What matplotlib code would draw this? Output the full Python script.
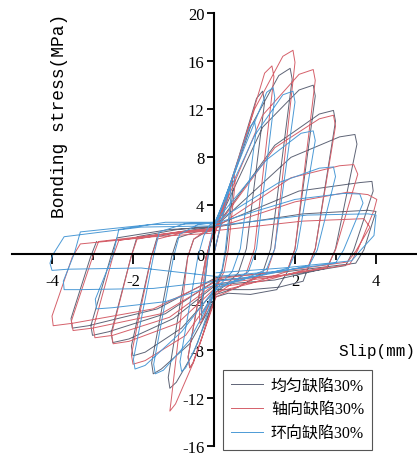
import numpy as np
import matplotlib
matplotlib.use('Agg')
from matplotlib import pyplot as plt

# hysteresis paths, (slip mm, stress MPa), one cycle per line
gray_pts = [
    (0, 0), (0.25, 3.6), (0.4, 5.7), (0.45, 6.0), (0.47, 5.3), (0.3, 0.3), (0.2, -1.5), (0.08, -2.4),
    (-0.12, -4.2), (-0.26, -5.3), (-0.3, -5.5), (-0.31, -4.8), (-0.15, -0.3), (-0.08, 1.0), (-0.03, 1.6),
    (0.02, 1.8), (0.6, 7.9), (1.05, 12.9), (1.2, 13.5), (1.25, 12.6), (0.8, 0.4), (0.6, -1.6), (0.3, -2.6), (0.05, -3.2),
    (-0.3, -7.0), (-0.52, -9.1), (-0.6, -9.5), (-0.64, -8.6), (-0.2, -0.3), (-0.05, 1.2),
    (0.02, 1.9), (0.9, 10.5), (1.6, 14.8), (1.88, 15.4), (1.93, 14.5), (1.4, 0.4), (1.2, -1.6), (0.6, -2.8), (0.05, -3.4),
    (-0.5, -8.2), (-0.93, -10.7), (-1.09, -11.2), (-1.13, -10.3), (-0.65, -0.3), (-0.5, 1.2), (-0.25, 1.7),
    (0.02, 2.0), (1.2, 10.5), (2.1, 13.6), (2.45, 14.0), (2.5, 13.1), (2.0, 0.4), (1.8, -1.6), (1.55, -3.0), (0.9, -3.4), (0.35, -3.3), (0.05, -3.6),
    (-0.6, -7.5), (-1.3, -9.6), (-1.5, -10.0), (-1.54, -9.1), (-1.05, -0.3), (-0.9, 1.3), (-0.45, 1.8),
    (0.02, 2.1), (1.5, 9.0), (2.6, 11.6), (2.95, 11.9), (3.0, 11.0), (2.5, 0.4), (2.3, -1.4), (2.2, -2.3), (1.6, -2.8), (0.9, -3.0), (0.05, -3.0),
    (-0.8, -6.2), (-1.7, -8.2), (-2.0, -8.5), (-2.04, -7.7), (-1.55, -0.3), (-1.4, 1.4), (-0.7, 1.9),
    (0.02, 2.2), (1.9, 8.0), (3.1, 9.7), (3.48, 9.9), (3.53, 9.1), (3.0, 0.4), (2.8, -1.2), (1.5, -2.2), (0.05, -2.6),
    (-1.0, -5.4), (-2.1, -7.1), (-2.5, -7.4), (-2.54, -6.6), (-2.05, -0.3), (-1.9, 1.4), (-0.9, 2.0),
    (0.02, 2.3), (2.1, 5.2), (3.6, 5.9), (3.9, 6.0), (3.93, 5.2), (3.45, 0.3), (3.25, -1.0), (1.8, -1.8), (0.05, -2.2),
    (-1.2, -5.0), (-2.6, -6.5), (-3.0, -6.8), (-3.04, -6.0), (-2.55, -0.3), (-2.4, 1.3), (-1.1, 2.0),
    (0.02, 2.2), (2.2, 3.3), (3.8, 3.6), (4.0, 3.5), (3.7, 0.3), (3.5, -0.8), (1.8, -1.5), (0.05, -2.0),
    (-1.4, -4.6), (-3.1, -6.0), (-3.5, -6.2), (-3.53, -5.4), (-3.05, -0.3), (-2.9, 1.0),
]

red_pts = [
    (0, 0), (0.28, 3.9), (0.45, 6.2), (0.5, 6.5), (0.52, 5.8), (0.35, 0.3), (0.25, -1.5), (0.1, -2.5),
    (-0.14, -4.4), (-0.3, -5.6), (-0.35, -5.8), (-0.36, -5.0), (-0.18, -0.3), (-0.1, 1.0), (-0.03, 1.5),
    (0.02, 1.6), (0.7, 8.8), (1.25, 15.0), (1.43, 15.6), (1.48, 14.7), (1.0, 0.4), (0.8, -1.6), (0.4, -2.6), (0.05, -3.4),
    (-0.3, -7.0), (-0.52, -9.1), (-0.6, -9.5), (-0.64, -8.6), (-0.2, -0.3), (-0.05, 1.3),
    (0.02, 1.8), (1.0, 12.0), (1.7, 16.4), (1.95, 16.9), (2.0, 15.9), (1.5, 0.4), (1.3, -1.6), (0.7, -2.6), (0.05, -3.6),
    (-0.5, -9.0), (-0.95, -12.5), (-1.09, -13.1), (-1.05, -12.0), (-0.65, -0.3), (-0.5, 1.2), (-0.25, 1.8),
    (0.02, 2.0), (1.2, 11.5), (2.1, 14.9), (2.45, 15.3), (2.5, 14.4), (2.0, 0.4), (1.8, -1.5), (0.9, -2.5), (0.05, -3.2),
    (-0.7, -6.8), (-1.7, -8.9), (-2.0, -9.2), (-2.04, -8.4), (-1.55, -0.3), (-1.4, 1.2), (-0.7, 1.8),
    (0.02, 2.0), (1.5, 8.8), (2.6, 11.2), (2.95, 11.5), (3.0, 10.6), (2.5, 0.4), (2.3, -1.3), (1.2, -2.3), (0.05, -2.8),
    (-0.9, -5.8), (-2.1, -7.3), (-2.49, -7.5), (-2.53, -6.7), (-2.05, -0.3), (-1.9, 1.2), (-0.9, 1.8),
    (0.02, 2.1), (1.9, 6.3), (3.1, 7.3), (3.45, 7.4), (3.55, 6.6), (3.0, 0.3), (2.8, -1.1), (1.4, -2.0), (0.05, -2.5),
    (-1.1, -5.3), (-2.5, -6.8), (-2.94, -7.0), (-2.98, -6.2), (-2.5, -0.3), (-2.35, 1.1), (-1.1, 1.7),
    (0.02, 2.1), (2.0, 4.3), (3.3, 5.1), (3.8, 4.9), (4.02, 4.5), (3.95, 3.6), (3.55, 0.3), (3.35, -0.9), (1.7, -1.8), (0.05, -2.3),
    (-1.3, -5.0), (-3.0, -6.2), (-3.48, -6.4), (-3.52, -5.6), (-3.0, -0.3), (-2.85, 1.0), (-1.3, 1.6),
    (0.02, 1.9), (2.2, 2.7), (3.7, 2.9), (3.85, 2.2), (3.5, 0.2), (3.3, -0.7), (1.6, -1.5), (0.05, -2.1),
    (-1.5, -4.6), (-3.5, -5.8), (-3.97, -6.0), (-4.0, -5.2), (-3.5, -0.3), (-3.3, 0.8), (-1.5, 1.4), (0.0, 1.7),
]

blue_pts = [
    (0, 0), (0.22, 3.2), (0.36, 5.2), (0.4, 5.5), (0.42, 4.8), (0.28, 0.3), (0.2, -1.3), (0.08, -2.2),
    (-0.12, -3.9), (-0.26, -4.8), (-0.3, -5.0), (-0.31, -4.3), (-0.15, -0.3), (-0.08, 1.2), (-0.03, 2.0),
    (0.02, 2.2), (0.5, 6.8), (0.88, 10.5), (1.0, 11.0), (1.04, 10.2), (0.65, 0.4), (0.45, -1.5), (0.2, -2.4), (0.03, -3.0),
    (-0.4, -7.4), (-0.7, -9.5), (-0.8, -9.8), (-0.84, -9.0), (-0.4, -0.3), (-0.25, 1.5), (-0.1, 2.4),
    (0.02, 2.5), (0.75, 8.8), (1.3, 13.4), (1.46, 13.8), (1.5, 13.0), (1.05, 0.4), (0.85, -1.5), (0.45, -2.4), (0.05, -3.0),
    (-0.6, -7.2), (-1.25, -9.7), (-1.45, -10.0), (-1.49, -9.2), (-1.0, -0.3), (-0.85, 1.6), (-0.4, 2.4),
    (0.02, 2.6), (1.0, 9.8), (1.7, 13.2), (1.95, 13.5), (2.0, 12.6), (1.5, 0.4), (1.3, -1.3), (0.7, -2.2), (0.05, -2.8),
    (-0.8, -6.5), (-1.7, -9.3), (-1.95, -9.6), (-1.99, -8.8), (-1.5, -0.3), (-1.35, 1.8), (-0.7, 2.5),
    (0.02, 2.6), (1.3, 7.8), (2.15, 10.0), (2.45, 10.2), (2.5, 9.4), (2.05, 0.4), (1.85, -1.2), (0.9, -2.0), (0.05, -2.6),
    (-1.2, -4.0), (-2.5, -4.5), (-2.9, -4.6), (-2.93, -3.8), (-2.5, -0.2), (-2.35, 2.0), (-1.2, 2.6),
    (0.02, 2.6), (1.6, 5.9), (2.6, 7.1), (2.95, 7.2), (3.0, 6.4), (2.55, 0.3), (2.35, -1.0), (1.2, -1.8), (0.05, -2.3),
    (-1.5, -2.9), (-3.3, -3.0), (-3.7, -3.0), (-3.72, -2.3), (-3.45, 0.0), (-3.3, 1.8), (-1.6, 2.4),
    (0.02, 2.5), (2.0, 4.5), (3.2, 5.0), (3.6, 4.95), (3.68, 4.2), (3.2, 0.3), (3.0, -0.8), (1.5, -1.5), (0.05, -1.9),
    (-1.8, -1.2), (-3.6, -1.3), (-4.0, -1.4), (-4.05, -0.8), (-3.98, -0.1), (-3.7, 1.4), (-1.8, 2.2),
    (0.02, 2.3), (2.3, 3.2), (3.8, 3.3), (4.0, 3.2), (3.95, 1.5), (3.6, 0.2), (3.4, -0.6), (1.7, -1.2), (0.05, -1.6),
]

labels = ['均匀缺陷30%', '轴向缺陷30%', '环向缺陷30%']
colors = ['#5e6476', '#d5606a', '#4c9ad6']

xticks = [-4, -2, 0, 2, 4]
xticklabels = ['-4', '-2', '', '2', '4']
yticks = [-16, -12, -8, -4, 0, 4, 8, 12, 16, 20]

fig = plt.figure(figsize=(4.17, 4.56), dpi=100)
ax = fig.add_axes([11.5/417, 9/456, 405/417, 433/456])

for pts, c, lab in zip([gray_pts, red_pts, blue_pts], colors, labels):
    arr = np.array(pts)
    ax.plot(arr[:, 0], arr[:, 1], color=c, lw=0.7, label=lab)

ax.set_xlim(-5, 5)
ax.set_ylim(-16, 20)
ax.spines['left'].set_position(('data', 0))
ax.spines['bottom'].set_position(('data', 0))
ax.spines['top'].set_visible(False)
ax.spines['right'].set_visible(False)
ax.spines['left'].set_linewidth(1.5)
ax.spines['bottom'].set_linewidth(1.5)

ax.set_xticks(xticks)
ax.set_xticklabels(xticklabels)
ax.set_xticks([-3, -1, 1, 3], minor=True)
ax.set_yticks(yticks)
ax.set_yticklabels([str(v) for v in yticks])
ax.tick_params(axis='x', which='major', direction='out', length=7, width=1.3, pad=7)
ax.tick_params(axis='x', which='minor', direction='out', length=4, width=1.2)
ax.tick_params(axis='y', which='major', direction='out', length=5, width=1.3, pad=2)
for t in ax.get_xticklabels() + ax.get_yticklabels():
    t.set_fontfamily('Liberation Serif')
    t.set_fontsize(12)

fig.text(60/417, 1 - 116/456, 'Bonding stress(MPa)', rotation=90, ha='center', va='center',
         family='Liberation Mono', fontsize=13)
fig.text(415/417, 1 - 352/456, 'Slip(mm)', ha='right', va='center',
         family='Liberation Mono', fontsize=11.5)

leg = fig.legend(loc='upper left', bbox_to_anchor=(223/417, 1 - 371/456), borderaxespad=0,
                 frameon=True, fancybox=False, edgecolor='#555555', framealpha=1,
                 handlelength=2.0, handletextpad=0.5, labelspacing=0.5, borderpad=0.5,
                 prop={'family': ['Liberation Serif', 'Noto Sans CJK SC'], 'size': 11.5})
leg.get_frame().set_linewidth(0.8)

fig.savefig('out.png', dpi=100)
